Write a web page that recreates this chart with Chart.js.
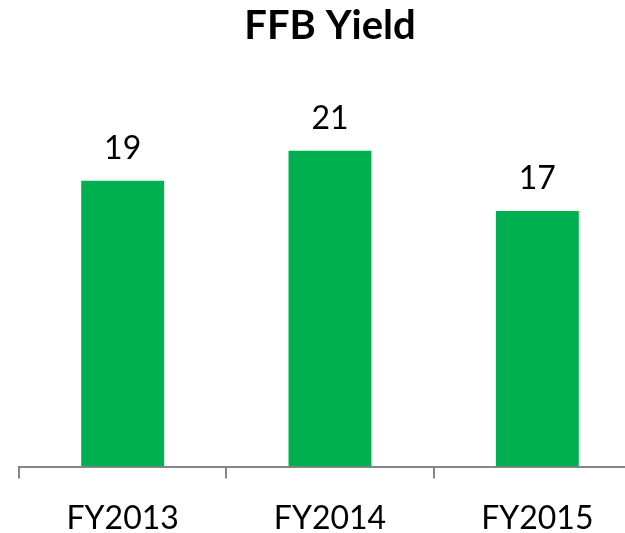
<!DOCTYPE html>
<html>
<head>
<meta charset="utf-8">
<script src="https://cdn.jsdelivr.net/npm/chart.js@4/dist/chart.umd.min.js"></script>
<style>
  html, body { margin: 0; padding: 0; background: #fff; overflow: hidden; }
  #wrap { width: 641px; height: 559px; }
</style>
</head>
<body>
<div id="wrap"><canvas id="myChart"></canvas></div>
<script>
var categories = ['FY2013', 'FY2014', 'FY2015'];
var yieldValues = [19, 21, 17];

var FONT = 'Lato, "Open Sans", sans-serif';

// draws the value above each bar
var barValues = {
  id: 'barValues',
  afterDatasetsDraw: function (chart) {
    var ctx = chart.ctx;
    var meta = chart.getDatasetMeta(0);
    ctx.save();
    ctx.font = '32px ' + FONT;
    ctx.fillStyle = '#000';
    ctx.textAlign = 'center';
    ctx.textBaseline = 'alphabetic';
    meta.data.forEach(function (bar, i) {
      ctx.fillText(chart.data.datasets[0].data[i], bar.x, bar.y - 22);
    });
    ctx.restore();
  }
};

new Chart(document.getElementById('myChart').getContext('2d'), {
  type: 'bar',
  data: {
    labels: categories,
    datasets: [{
      data: yieldValues,
      backgroundColor: '#00B050',
      borderWidth: 0,
      categoryPercentage: 0.4,
      barPercentage: 1
    }]
  },
  options: {
    responsive: true,
    maintainAspectRatio: false,
    animation: false,
    layout: { padding: { left: 19, right: 0, top: 0, bottom: 0 } },
    plugins: {
      legend: { display: false },
      tooltip: { enabled: false },
      title: {
        display: true,
        text: 'FFB Yield',
        color: '#000',
        font: { family: FONT, size: 40, weight: 'bold' },
        padding: { top: 2, bottom: 0 }
      }
    },
    scales: {
      x: {
        grid: {
          display: true,
          drawOnChartArea: false,
          drawTicks: true,
          tickLength: 12,
          color: '#868686',
          lineWidth: 2
        },
        border: { display: true, color: '#868686', width: 2 },
        ticks: {
          color: '#000',
          font: { family: FONT, size: 32 },
          padding: 21
        }
      },
      y: {
        display: false,
        min: 0,
        max: 27.7
      }
    }
  },
  plugins: [barValues]
});
</script>
</body>
</html>
